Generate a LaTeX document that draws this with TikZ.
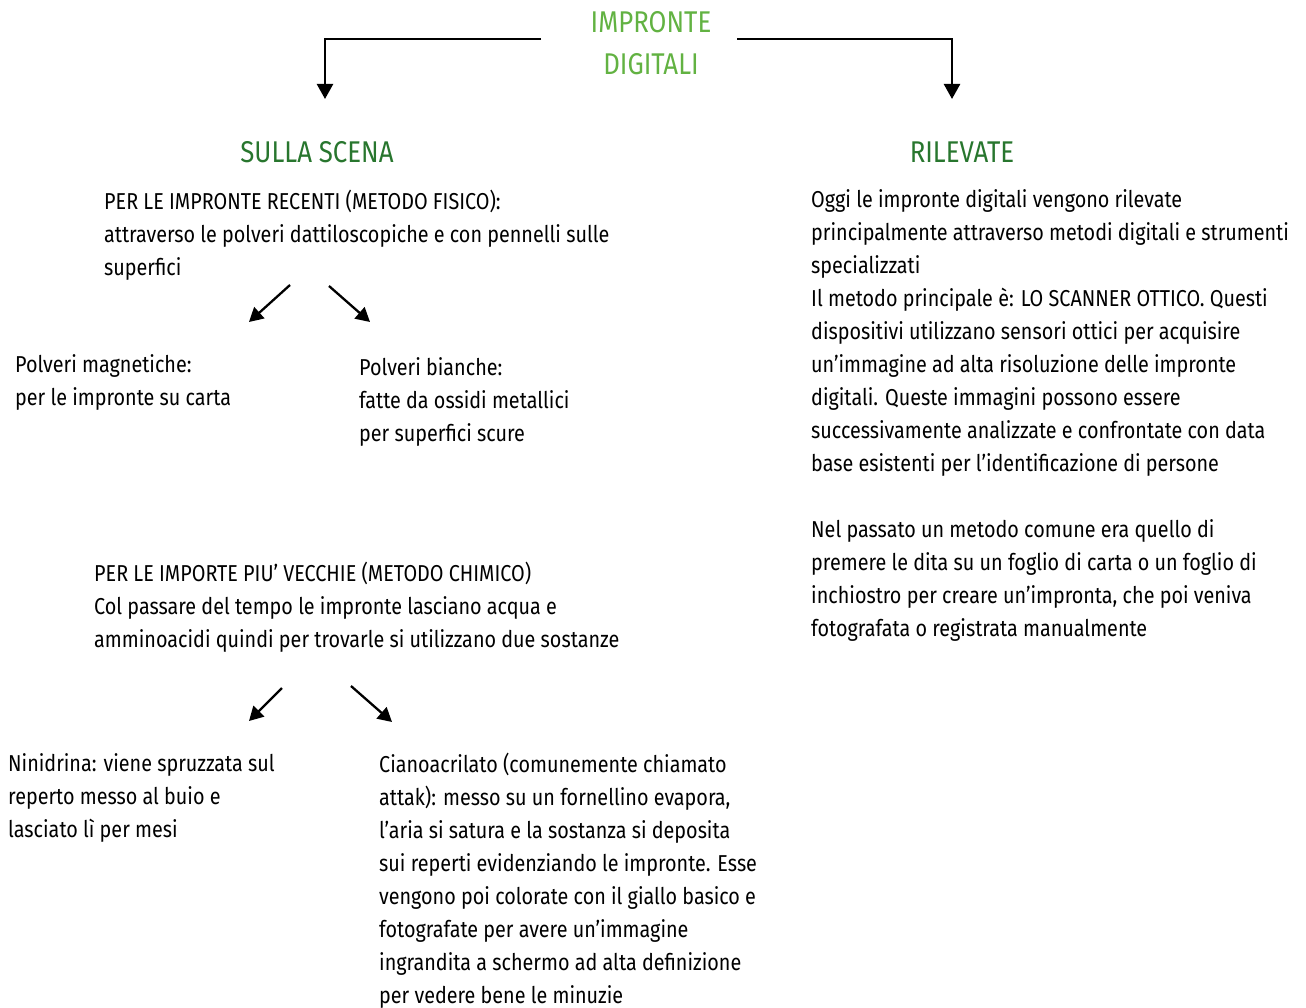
\documentclass[tikz,border=0pt]{standalone}
\usepackage{fontspec}
\setmainfont{Fira Sans}[FakeStretch=0.86]
\usetikzlibrary{arrows.meta}
\definecolor{titlegreen}{RGB}{98,178,66}
\definecolor{headgreen}{RGB}{40,118,46}
\tikzset{
  x=1pt,y=-1pt,
  body/.style={anchor=base west,inner sep=0pt,align=left,font=\fontsize{23}{33}\selectfont,text=black},
  head/.style={anchor=base,inner sep=0pt,align=center,font=\fontsize{30}{42}\selectfont,text=headgreen},
  bigarrow/.style={line width=2.4pt,-{Triangle[width=16pt,length=15pt]}},
  smallarrow/.style={line width=2.3pt,-{Triangle[width=15pt,length=14pt]}},
}
\begin{document}
\begin{tikzpicture}
\useasboundingbox (0,0) rectangle (1306,1008);
\node[head,text=titlegreen] (title) at (651,75) {IMPRONTE\\DIGITALI};
\coordinate (tl) at (541,39);
\coordinate (tr) at (737,39);
\node[head] (scena) at (317,163) {SULLA SCENA};
\node[head] (rilev) at (962,163) {RILEVATE};
\coordinate (scenatop) at (325,99);
\coordinate (rilevtop) at (952,99);
\draw[bigarrow] (tl) -| (scenatop);
\draw[bigarrow] (tr) -| (rilevtop);

\node[body] (recenti) at (104,276) {PER LE IMPRONTE RECENTI (METODO FISICO):\\attraverso le polveri dattiloscopiche e con pennelli sulle\\superfici};
\coordinate (a1s) at (290,285); \coordinate (a1e) at (249,322);
\coordinate (a2s) at (329,286); \coordinate (a2e) at (370,322);
\draw[smallarrow] (a1s) -- (a1e);
\draw[smallarrow] (a2s) -- (a2e);
\node[body] (magn) at (15,405) {Polveri magnetiche:\\per le impronte su carta};
\node[body] (bianche) at (359,441) {Polveri bianche:\\fatte da ossidi metallici\\per superfici scure};

\node[body] (vecchie) at (94,647) {PER LE IMPORTE PIU’ VECCHIE (METODO CHIMICO)\\Col passare del tempo le impronte lasciano acqua e\\amminoacidi quindi per trovarle si utilizzano due sostanze};
\coordinate (b1s) at (282,688); \coordinate (b1e) at (249,721);
\coordinate (b2s) at (351,686); \coordinate (b2e) at (392,722);
\draw[smallarrow] (b1s) -- (b1e);
\draw[smallarrow] (b2s) -- (b2e);
\node[body] (ninidrina) at (8,837) {Ninidrina: viene spruzzata sul\\reperto messo al buio e\\lasciato lì per mesi};
\node[body] (ciano) at (379,1003) {Cianoacrilato (comunemente chiamato\\attak): messo su un fornellino evapora,\\l’aria si satura e la sostanza si deposita\\sui reperti evidenziando le impronte. Esse\\vengono poi colorate con il giallo basico e\\fotografate per avere un’immagine\\ingrandita a schermo ad alta definizione\\per vedere bene le minuzie};

\node[body] (oggi) at (811,471) {Oggi le impronte digitali vengono rilevate\\principalmente attraverso metodi digitali e strumenti\\specializzati\\Il metodo principale è: LO SCANNER OTTICO. Questi\\dispositivi utilizzano sensori ottici per acquisire\\un’immagine ad alta risoluzione delle impronte\\digitali. Queste immagini possono essere\\successivamente analizzate e confrontate con data\\base esistenti per l’identificazione di persone};
\node[body] (passato) at (811,636) {Nel passato un metodo comune era quello di\\premere le dita su un foglio di carta o un foglio di\\inchiostro per creare un’impronta, che poi veniva\\fotografata o registrata manualmente};
\end{tikzpicture}
\end{document}
